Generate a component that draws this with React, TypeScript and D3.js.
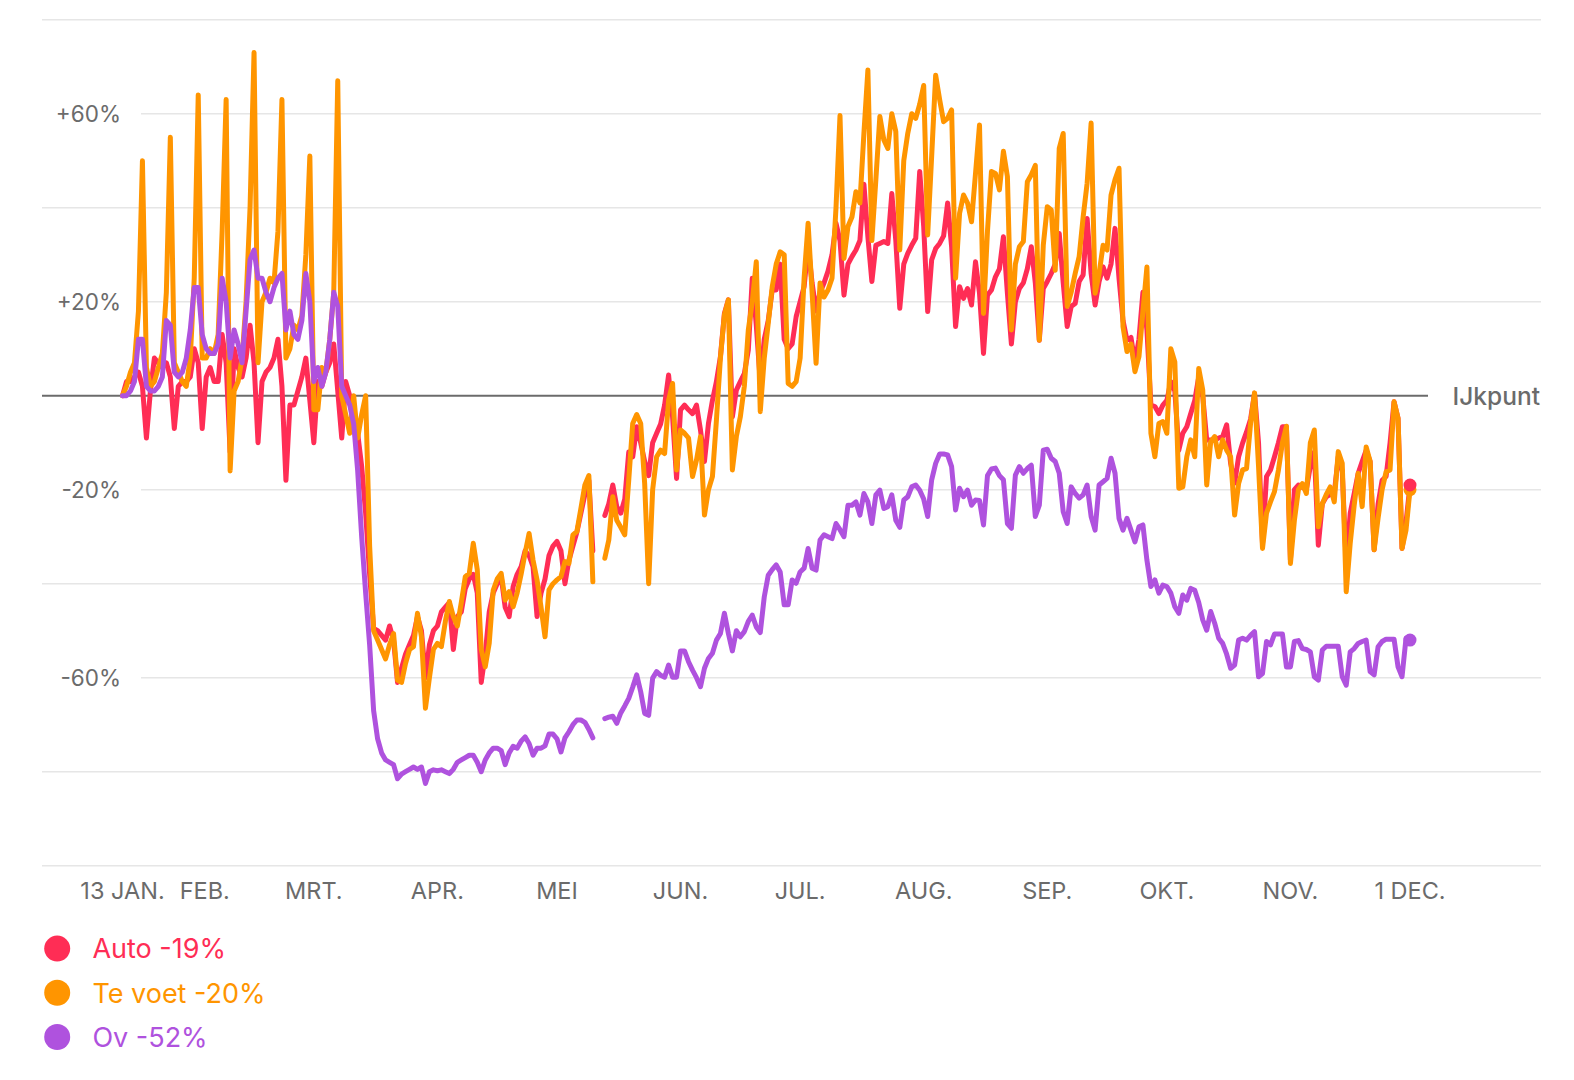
import React, { useMemo } from "react";
import * as d3 from "d3";

// ---- data (daily % change vs. baseline, from 13 Jan 2020 to 1 Dec 2020) ----
const startDay = Date.UTC(2020, 0, 13);
const endDay = Date.UTC(2020, 11, 1);

const seriesNames = ["Auto", "Te voet", "Ov"];
const seriesColors = ["#ff2d55", "#ff9500", "#af52de"];

// one row per week (Mon..Sun)
const autoValues: (number | null)[] = [
  0, 3, 3, 4, 5, 2, -9,
  1, 8, 7, 6, 7, 4, -7,
  2, 3, 3, 4, 10, 7, -7,
  4, 6, 3, 3, 13, 7, -12,
  10, 6, 4, 8, 15, 7, -10,
  3, 5, 6, 8, 12, 2, -18,
  -2, -2, 1, 4, 8, -1, -10,
  3, 2, 5, 7, 11, 1, -9,
  3, 0, -4, -8, -15, -25, -38,
  -49.5, -50, -51, -52, -49, -52, -61,
  -58, -55, -53, -51, -47, -50, -60,
  -53, -50, -49, -46, -45, -44, -54,
  -47, -46, -41, -39, -38, -42, -61,
  -55, -46, -42, -40, -38.5, -45, -47,
  -40.6, -38, -36.4, -33, -34, -36.4, -47,
  -42, -39, -34, -32, -31, -33, -40,
  -35, -32, -29, -25, -21, -18, -33,
  null, null, -25.5, -23, -19, -23.6, -25,
  -22, -12, -13, -6.6, -10, -14, -17,
  -10, -8, -6, -2, 4.4, -4.5, -17.6,
  -3, -2, -3, -3.8, -2, -7.3, -14,
  -5.9, -1, 3, 8.3, 17.5, 20.4, -4.5,
  1.2, 3, 4.7, 9.7, 25, 15, 3,
  12, 16, 22.5, 22.5, 28, 12, 10,
  11, 16.8, 20, 23.2, 32, 24, 18,
  22, 24, 26.5, 30, 36.7, 33, 21.4,
  28, 29.6, 31, 33, 45, 33.8, 24.3,
  32, 32.4, 32.8, 32.4, 43, 33, 18.6,
  28, 30.3, 32, 33.5, 47.7, 36, 17.9,
  28.9, 31.3, 32.4, 34, 41, 31.7, 14.7,
  23.2, 20.7, 22.8, 19.3, 28.5, 21.8, 9,
  21.4, 22.5, 25.3, 27, 33.8, 21.8, 11,
  20, 22.8, 24, 27, 31.7, 24, 11.8,
  22.8, 24.3, 26, 28, 34.5, 24, 14.7,
  19, 19.6, 24.3, 25.7, 37.7, 26, 19.3,
  24.3, 27.4, 25, 28, 35.6, 25, 16,
  11.8, 12.4, 7, 12, 22, 14, -2,
  -2.3, -3.8, -2, -1, 3, 1, -11.6,
  -8, -6.6, -3.8, -1, 4, 0, -9.4,
  -9.4, -9.4, -9, -8.7, -6.2, -14.4, -18.6,
  -13, -10.1, -7.7, -5, 0.5, -10, -31.4,
  -17.2, -15.8, -13, -10, -6.6, -6.6, -35,
  -20, -19, -19.5, -20, -15, -12, -31.8,
  -23, -21.5, -21, -20.8, -13, -16, -36,
  -25, -20.8, -16.5, -14, -11.6, -14, -32.8,
  -23, -18, -17.2, -10, -1.3, -4.8, -32.5,
  -27, -19,
];

const walkValues: (number | null)[] = [
  0, 2, 5, 7, 18, 50, 6,
  2, 3, 6, 9, 22, 55, 7,
  5, 3, 2, 8, 25, 64, 8,
  8, 10, 9, 13, 35, 63, -16,
  1, 3, 8, 20, 40, 73, 7,
  20, 22, 25, 24, 35, 63, 8,
  10, 15, 14, 17, 30, 51, -3,
  -3, 6, 5, 12, 22, 67, 0,
  -4, -8, 0, -9, -4, 0, -32,
  -50, -52, -54, -56, -53, -50.6, -60.5,
  -61, -57, -54, -53.4, -46.3, -51.3, -66.5,
  -60, -54, -52.7, -53.4, -48, -43.8, -47,
  -49, -44, -38.5, -37.8, -31.4, -37, -54,
  -57.7, -52.7, -41.4, -39, -37.8, -43.5, -41.7,
  -44.9, -42, -38, -33.5, -29.3, -35, -39.2,
  -45, -51.3, -41.3, -40, -39.2, -38.5, -35.3,
  -35.7, -29.6, -28.9, -24, -19, -17, -39.6,
  null, null, -34.6, -30.7, -21.5, -26.5, -28,
  -29.6, -18, -5.9, -4, -5.9, -18.7, -40,
  -20, -13, -11.6, -12.3, -1, 2.6, -15.8,
  -7.3, -8, -9, -17.2, -13.7, -8.7, -25.4,
  -20, -17.2, -5.2, 8, 17.2, 20.4, -15.8,
  -8.7, -4.5, 2, 14, 20, 28.5, -3.4,
  8, 15.4, 23.2, 28, 30.6, 30, 2.6,
  2, 3, 8, 25, 36.7, 22, 6.9,
  24, 21, 22.5, 25, 40, 59.6, 29.2,
  36, 38, 43.4, 41, 55.8, 69.3, 33,
  46, 59.4, 54.4, 52.6, 60, 56.2, 31,
  50, 55.8, 60, 59, 62, 66, 34.2,
  51, 68.2, 63, 58.3, 59, 60.8, 25,
  38.8, 42.7, 41, 37, 47.3, 57.6, 17.5,
  35, 47.7, 47.3, 43.8, 52, 46.6, 14,
  28, 31.7, 32.8, 45.5, 47, 49, 11.8,
  32, 40.2, 39.5, 26.7, 52.6, 55.8, 19,
  22, 26, 29.6, 38, 45.2, 58, 21.8,
  26, 32, 31, 42.7, 46, 48.4, 14.7,
  9.4, 11, 5.1, 8.3, 18, 27.4, -8,
  -13, -5.9, -5.5, -8, 10, 7.2, -19.7,
  -19.4, -13, -9.4, -13, 5.8, 1.2, -19,
  -9.8, -8.7, -13, -9.4, -11.6, -13, -25.4,
  -18.7, -15.8, -15.5, -5.9, 0.6, -15, -32.5,
  -25, -22.6, -20.4, -15.8, -10, -6.5, -35.7,
  -26.5, -20, -18.7, -20.8, -10, -7.3, -27.9,
  -23, -21, -19.4, -22.6, -11.9, -14.4, -41.7,
  -31.4, -23.3, -16.5, -23.6, -10.9, -14, -32.8,
  -26, -20, -16.2, -15.8, -1.3, -4.8, -32.5,
  -28.6, -20,
];

const transitValues: (number | null)[] = [
  0, 0, 1, 3, 12, 12, 2,
  1, 1, 2, 4, 16, 15, 5,
  4, 5, 8, 14, 23, 23, 13,
  10, 9, 9, 11, 25, 20, 8,
  14, 11, 7, 18, 29, 31, 25,
  25, 22, 20, 23, 25, 26, 14,
  18, 13, 12, 16, 26, 20, 3,
  6, 2, 5, 12, 22, 19, 2,
  0, -2, -6, -16, -30, -42, -53,
  -67, -73, -76, -77.5, -78, -78.5, -81.5,
  -80.5, -80, -79.5, -79, -79.5, -79, -82.5,
  -80, -79.6, -79.8, -79.6, -80, -80.4, -79.5,
  -78, -77.5, -77, -76.5, -76.5, -78, -80,
  -77.5, -76, -75, -75, -75.5, -78.5, -76,
  -74.6, -75, -73.5, -72.6, -74, -76.5, -75,
  -75, -74.5, -72, -72, -73, -75.8, -72.8,
  -71.5, -70, -69, -69, -69.5, -71, -72.8,
  null, null, -68.7, -68.4, -68.2, -69.7, -67.5,
  -66, -64.4, -62, -59.4, -63, -67.6, -68,
  -60.1, -58.7, -59.5, -59.9, -57.3, -59.9, -59.9,
  -54.3, -54.3, -56.6, -58.4, -60, -61.9, -58,
  -55.9, -54.8, -52, -50.6, -46.3, -50.6, -54.3,
  -50, -51.3, -50.2, -48, -46.7, -49.2, -50.4,
  -42.8, -38.2, -37, -36, -37.5, -44.5, -44.5,
  -39.2, -39.9, -37.5, -36.7, -32.5, -36.7, -37.1,
  -30.7, -29.6, -30, -30.4, -27.2, -28.5, -30,
  -23.3, -23.3, -22.6, -25.4, -20.8, -22.6, -27.2,
  -21.1, -20.1, -24, -23.6, -21.1, -26.5, -28,
  -22.2, -21.5, -19.4, -19, -20.1, -22, -25.7,
  -17.9, -14.4, -12.4, -12.4, -12.6, -15.1, -24.3,
  -19.7, -21.5, -20.1, -23.3, -22.2, -22.3, -27.5,
  -17, -15.6, -15.4, -17, -17.9, -27.2, -28.2,
  -16.9, -15.1, -16.5, -15.5, -14.8, -25.7, -23.3,
  -11.6, -11.4, -13.3, -14, -16.5, -24.7, -27.2,
  -19.4, -20.8, -21.8, -21.1, -19, -25.7, -28.6,
  -19, -18.3, -17.6, -13.3, -16.5, -26.1, -28.6,
  -26.1, -28.6, -31.1, -27.9, -27.5, -35, -40.6,
  -39.2, -42, -40.3, -40.6, -42, -44.9, -46.3,
  -42.4, -43.5, -41, -41.4, -44, -47.7, -49.9,
  -45.9, -48.4, -51.6, -52.7, -55, -58, -57.3,
  -52, -51.6, -52, -51, -50.2, -59.8, -59.1,
  -52.3, -53, -50.7, -50.7, -50.7, -57.7, -57.7,
  -52.3, -52.1, -53.8, -54, -54.5, -59.8, -60.5,
  -54.1, -53.3, -53.3, -53.3, -53.3, -59.8, -61.6,
  -54.5, -53.8, -52.7, -52.3, -52, -58.7, -59.4,
  -53.4, -52.3, -51.8, -51.8, -51.8, -57.7, -59.8,
  -51.6, -52,
];

const seriesValues = [autoValues, walkValues, transitValues];

const yGridValues = [80, 60, 40, 20, -20, -40, -60, -80, -100];
const yTickValues = [60, 20, -20, -60];
const baselineLabel = "IJkpunt";

const xTickDates: [number, number, string][] = [
  [0, 13, "13 JAN."],
  [1, 1, "FEB."],
  [2, 1, "MRT."],
  [3, 1, "APR."],
  [4, 1, "MEI"],
  [5, 1, "JUN."],
  [6, 1, "JUL."],
  [7, 1, "AUG."],
  [8, 1, "SEP."],
  [9, 1, "OKT."],
  [10, 1, "NOV."],
  [11, 1, "1 DEC."],
];

// ---- layout ----
const W = 1574;
const H = 1080;
const FONT = 'Inter, "Liberation Sans", Arial, sans-serif';
const TEXT_GRAY = "#6b6b6b";
const X_LABEL_SIZE = 23.5;

function measureText(text: string, font: string): number {
  const canvas = document.createElement("canvas");
  const ctx = canvas.getContext("2d");
  if (!ctx) return text.length * 12;
  ctx.font = font;
  return ctx.measureText(text).width;
}

export default function App() {
  const x = d3
    .scaleUtc()
    .domain([new Date(startDay), new Date(endDay)])
    .range([122.5, 1410]);
  const y = d3.scaleLinear().domain([-100, 80]).range([865.7, 19.7]);

  const dateOf = (i: number) => d3.utcDay.offset(new Date(startDay), i);

  const line = d3
    .line<number | null>()
    .defined((v) => v != null)
    .x((_, i) => x(dateOf(i)))
    .y((v) => y(v as number))
    .curve(d3.curveLinear);

  const xLabels = useMemo(() => {
    const font = `${X_LABEL_SIZE}px ${FONT}`;
    let prevRight = -Infinity;
    return xTickDates.map(([m, d, label]) => {
      const w = measureText(label, font);
      let cx = x(new Date(Date.UTC(2020, m, d)));
      if (cx - w / 2 < prevRight + 15) cx = prevRight + 15 + w / 2;
      prevRight = cx + w / 2;
      return { cx, label };
    });
  }, []);

  const fmtY = (v: number) => (v > 0 ? `+${v}%` : `${v}%`);

  const lastIndex = autoValues.length - 1;

  return (
    <div style={{ position: "absolute", left: 0, top: 0, width: W, height: H, overflow: "hidden", background: "#fff" }}>
      <svg width={W} height={H} style={{ display: "block", fontFamily: FONT }}>
        {/* grid */}
        {yGridValues.map((v) => (
          <line
            key={v}
            x1={yTickValues.includes(v) ? 141 : 42}
            x2={1541}
            y1={y(v)}
            y2={y(v)}
            stroke="#e6e6e6"
            strokeWidth={1.5}
          />
        ))}
        {yTickValues.map((v) => (
          <text
            key={v}
            x={121}
            y={y(v)}
            dy="0.36em"
            textAnchor="end"
            fontSize={22.5}
            fill={TEXT_GRAY}
          >
            {fmtY(v)}
          </text>
        ))}
        {/* baseline */}
        <line x1={42} x2={1428} y1={y(0)} y2={y(0)} stroke="#6b6b6b" strokeWidth={2} />
        <text x={1540} y={y(0)} dy="0.36em" textAnchor="end" fontSize={24.5} fontWeight={500} fill={TEXT_GRAY}>
          {baselineLabel}
        </text>

        {/* x labels */}
        {xLabels.map((l) => (
          <text key={l.label} x={l.cx} y={899} textAnchor="middle" fontSize={X_LABEL_SIZE} fill={TEXT_GRAY}>
            {l.label}
          </text>
        ))}

        {/* lines */}
        {seriesValues.map((vals, k) => (
          <path
            key={seriesNames[k]}
            d={line(vals) || ""}
            fill="none"
            stroke={seriesColors[k]}
            strokeWidth={5}
            strokeLinejoin="round"
            strokeLinecap="round"
          />
        ))}
        {/* end dots */}
        {[1, 0, 2].map((k) => (
          <circle
            key={k}
            cx={x(dateOf(lastIndex))}
            cy={y(seriesValues[k][lastIndex] as number)}
            r={6.5}
            fill={seriesColors[k]}
          />
        ))}

        {/* legend */}
        {seriesNames.map((name, k) => {
          const last = seriesValues[k][lastIndex] as number;
          const cy = 948.6 + k * 44.2;
          return (
            <g key={name}>
              <circle cx={57.2} cy={cy} r={13} fill={seriesColors[k]} />
              <text x={92.4} y={cy} dy="0.36em" fontSize={27} fill={seriesColors[k]}>
                {`${name} ${Math.round(last)}%`}
              </text>
            </g>
          );
        })}
      </svg>
    </div>
  );
}
